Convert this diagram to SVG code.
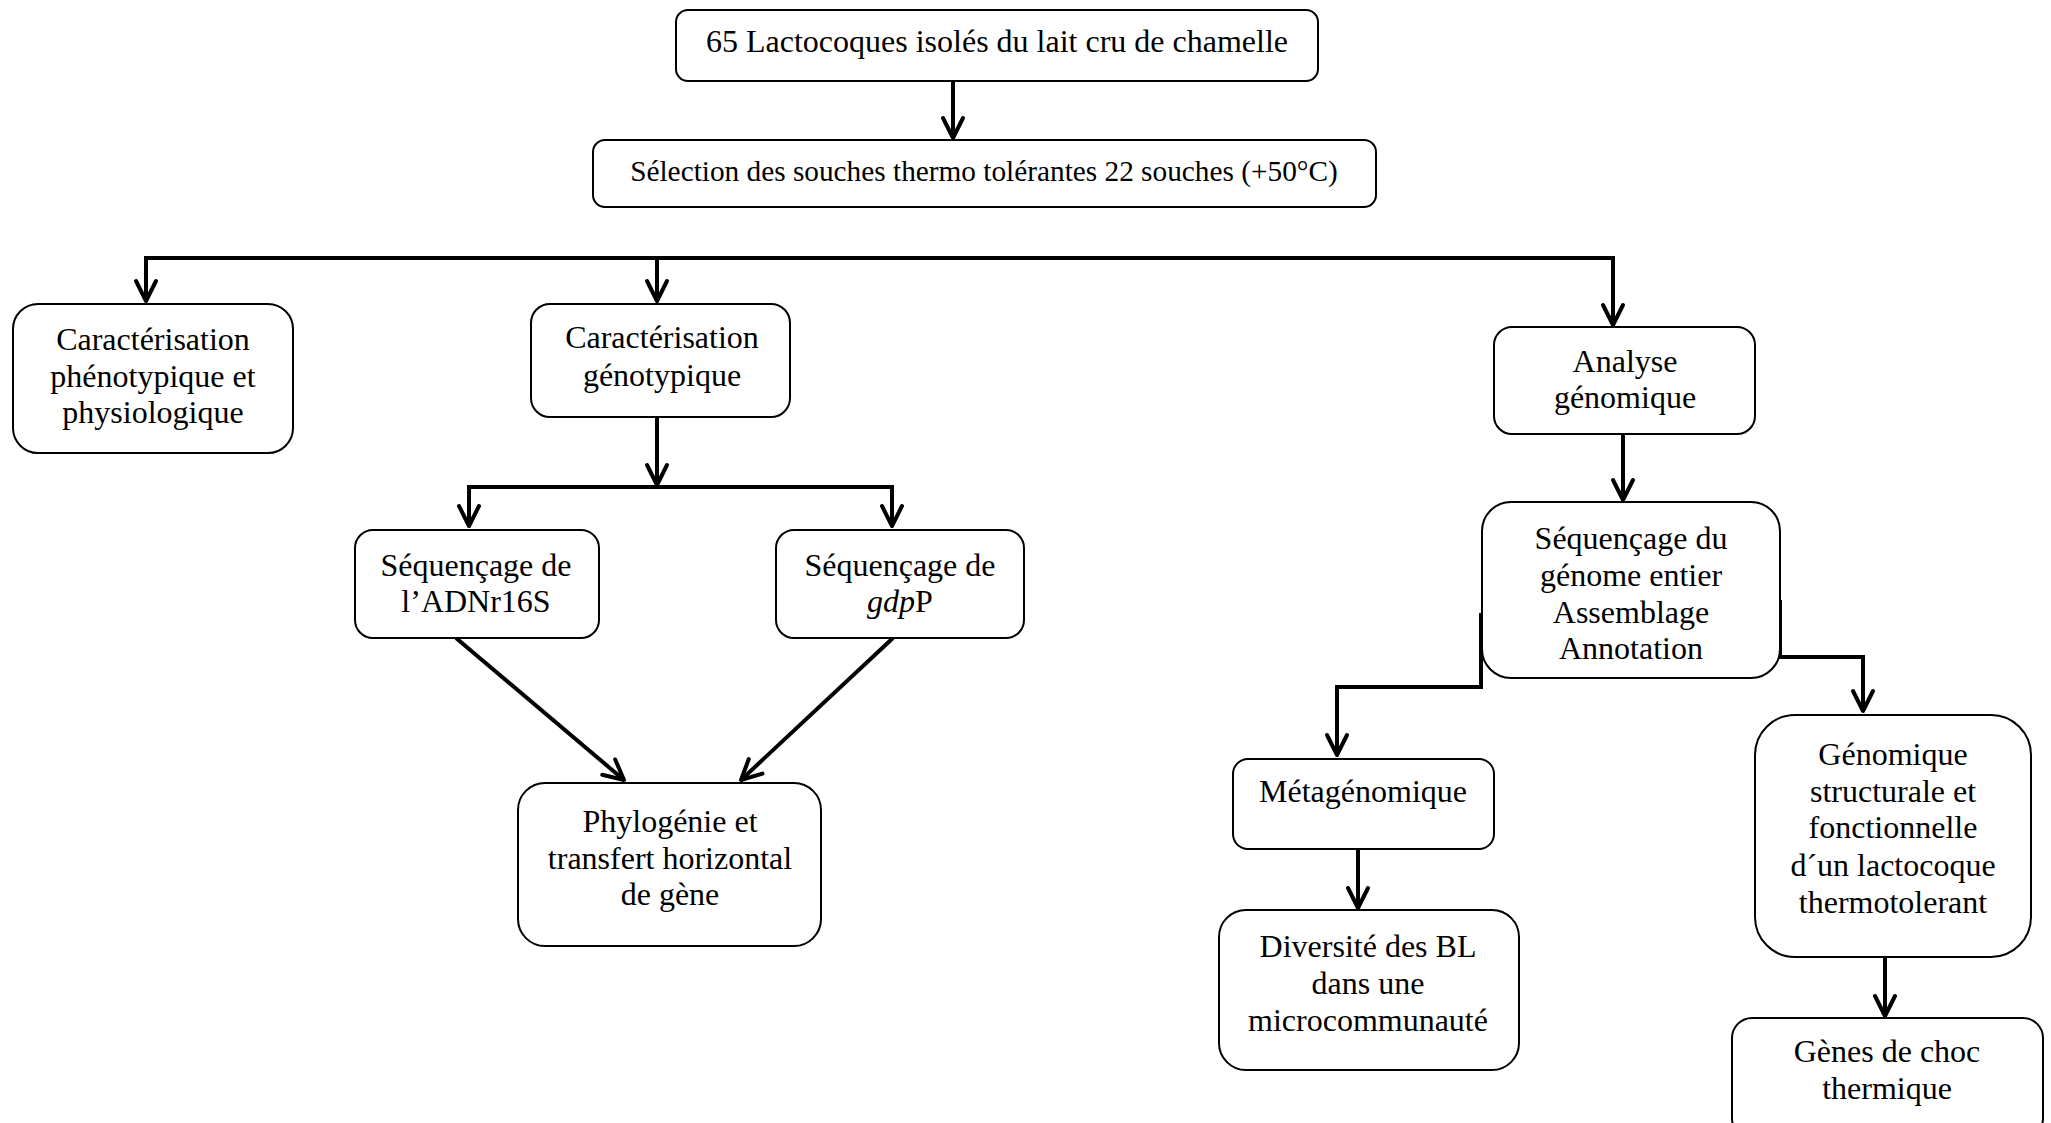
<svg xmlns="http://www.w3.org/2000/svg" width="2051" height="1123" viewBox="0 0 2051 1123">
<style>
.box{fill:#fff;stroke:#000;stroke-width:2}
.t{font-family:"Liberation Serif","Times New Roman",serif;font-size:32px;fill:#000;text-anchor:middle}
.c{fill:none;stroke:#000;stroke-width:4;stroke-linejoin:miter}
</style>
<defs>
<marker id="ah" viewBox="-25 -15 30 30" refX="0" refY="0" markerWidth="30" markerHeight="30" markerUnits="userSpaceOnUse" orient="auto-start-reverse" overflow="visible">
<path d="M-20,-10 L0,0 L-20,10" fill="none" stroke="#000" stroke-width="4" stroke-linejoin="round" stroke-linecap="round"/>
</marker>
</defs>
<rect width="2051" height="1123" fill="#fff"/>
<g id="connectors">
<path class="c" d="M953,81 V138" marker-end="url(#ah)"/>
<path class="c" d="M146,301 V258 H1613 V325" marker-start="url(#ah)" marker-end="url(#ah)"/>
<path class="c" d="M657,258 V301" marker-end="url(#ah)"/>
<path class="c" d="M657,417 V485" marker-end="url(#ah)"/>
<path class="c" d="M469,526 V487 H892 V526" marker-start="url(#ah)" marker-end="url(#ah)"/>
<path class="c" d="M456,638 L624,780" marker-end="url(#ah)"/>
<path class="c" d="M893,638 L741,780" marker-end="url(#ah)"/>
<path class="c" d="M1623,434 V500" marker-end="url(#ah)"/>
<path class="c" d="M1481,613 V687 H1337 V755" marker-end="url(#ah)"/>
<path class="c" d="M1780,600 V657 H1863 V711" marker-end="url(#ah)"/>
<path class="c" d="M1358,849 V908" marker-end="url(#ah)"/>
<path class="c" d="M1885,957 V1016" marker-end="url(#ah)"/>
</g>
<g id="n1"><rect class="box" x="676" y="10" width="642" height="71" rx="12"/><text class="t" x="997" y="52">65 Lactocoques isolés du lait cru de chamelle</text></g>
<g id="n2"><rect class="box" x="593" y="140" width="783" height="67" rx="12"/><text class="t" x="984" y="181" style="font-size:29.3px">Sélection des souches thermo tolérantes 22 souches (+50°C)</text></g>
<g id="n3"><rect class="box" x="13" y="304" width="280" height="149" rx="25"/><text class="t" x="153"><tspan x="153" y="350">Caractérisation</tspan><tspan x="153" y="387">phénotypique et</tspan><tspan x="153" y="423">physiologique</tspan></text></g>
<g id="n4"><rect class="box" x="531" y="304" width="259" height="113" rx="19"/><text class="t"><tspan x="662" y="348">Caractérisation</tspan><tspan x="662" y="386">génotypique</tspan></text></g>
<g id="n5"><rect class="box" x="1494" y="327" width="261" height="107" rx="18"/><text class="t"><tspan x="1625" y="372">Analyse</tspan><tspan x="1625" y="408">génomique</tspan></text></g>
<g id="n6"><rect class="box" x="355" y="530" width="244" height="108" rx="18"/><text class="t"><tspan x="476" y="576">Séquençage de</tspan><tspan x="476" y="612">l’ADNr16S</tspan></text></g>
<g id="n7"><rect class="box" x="776" y="530" width="248" height="108" rx="18"/><text class="t"><tspan x="900" y="576">Séquençage de</tspan><tspan x="900" y="612"><tspan font-style="italic">gdp</tspan>P</tspan></text></g>
<g id="n8"><rect class="box" x="518" y="783" width="303" height="163" rx="27"/><text class="t"><tspan x="670" y="832">Phylogénie et</tspan><tspan x="670" y="869">transfert horizontal</tspan><tspan x="670" y="905">de gène</tspan></text></g>
<g id="n9"><rect class="box" x="1482" y="502" width="298" height="176" rx="29"/><text class="t"><tspan x="1631" y="549">Séquençage du</tspan><tspan x="1631" y="586">génome entier</tspan><tspan x="1631" y="623">Assemblage</tspan><tspan x="1631" y="659">Annotation</tspan></text></g>
<g id="n10"><rect class="box" x="1233" y="759" width="261" height="90" rx="15"/><text class="t" x="1363" y="802">Métagénomique</text></g>
<g id="n11"><rect class="box" x="1219" y="910" width="300" height="160" rx="27"/><text class="t"><tspan x="1368" y="957">Diversité des BL</tspan><tspan x="1368" y="994">dans une</tspan><tspan x="1368" y="1031">microcommunauté</tspan></text></g>
<g id="n12"><rect class="box" x="1755" y="715" width="276" height="242" rx="40"/><text class="t"><tspan x="1893" y="765">Génomique</tspan><tspan x="1893" y="802">structurale et</tspan><tspan x="1893" y="838">fonctionnelle</tspan><tspan x="1893" y="876">d´un lactocoque</tspan><tspan x="1893" y="913">thermotolerant</tspan></text></g>
<g id="n13"><rect class="box" x="1732" y="1018" width="311" height="120" rx="20"/><text class="t"><tspan x="1887" y="1062">Gènes de choc</tspan><tspan x="1887" y="1099">thermique</tspan></text></g>
</svg>
